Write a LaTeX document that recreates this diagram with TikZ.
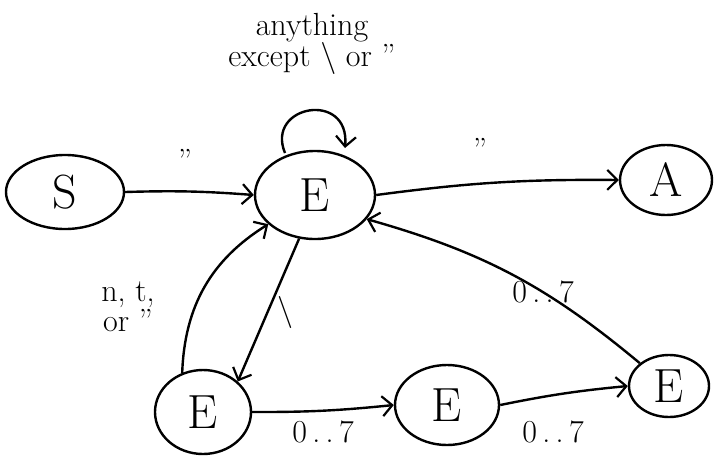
\documentclass[tikz,border=0pt]{standalone}
\usepackage{fontspec}
\usetikzlibrary{arrows.meta,shapes.geometric}
\newcommand{\dq}{\symbol{34}}
\begin{document}
\begin{tikzpicture}[x=1pt,y=-1pt,
  st/.style={draw,ellipse,line width=2.4pt,inner sep=0pt,font=\fontsize{48}{50}\selectfont},
  tr/.style={line width=2.4pt,-{Straight Barb[length=10pt,width=20pt,line width=2.2pt]}},
  lb/.style={font=\fontsize{32}{30}\selectfont,align=center}]
\useasboundingbox (0,0) rectangle (720,461);
\node[st,minimum width=118pt,minimum height=74pt] (S) at (65,192) {S};
\node[st,minimum width=120pt,minimum height=88pt] (E1) at (315,195) {E};
\node[st,minimum width=92pt,minimum height=70pt] (A) at (666,180) {A};
\node[st,minimum width=96pt,minimum height=84pt] (E2) at (203,412) {E};
\node[st,minimum width=104pt,minimum height=80pt] (E3) at (447,405) {E};
\node[st,minimum width=80pt,minimum height=62pt] (E4) at (669,386) {E};
\coordinate (L1) at (285,153);
\coordinate (L2) at (345,148);
\draw[tr] (S.east) to[bend left=3] (E1.west);
\draw[tr] (E1.east) to[bend left=4] (A.west);
\draw[tr] (L1) .. controls (265,105) and (350,90) .. (L2);
\draw[tr] (E1.250) -- (E2.north east);
\draw[tr] (E2.118) to[bend left=28] (E1.212);
\draw[tr] (E2.east) to[bend left=-3] (E3.west);
\draw[tr] (E3.east) to[bend left=3] (E4.west);
\draw[tr] (E4.north west) to[bend right=12] (E1.-25);
\node[lb] (l1) at (185,160) {\dq};
\node[lb] (l2) at (480,149) {\dq};
\node[lb] (l3) at (312,44) {anything\\except \textbackslash\ or \dq};
\node[lb] (l4) at (128,307) {n, t,\\or \dq};
\node[lb] (l5) at (285,312) {\textbackslash};
\node[lb] (l6) at (543,292) {0\,.\,.\,7};
\node[lb] (l7) at (323,432) {0\,.\,.\,7};
\node[lb] (l8) at (553,432) {0\,.\,.\,7};
\end{tikzpicture}
\end{document}
